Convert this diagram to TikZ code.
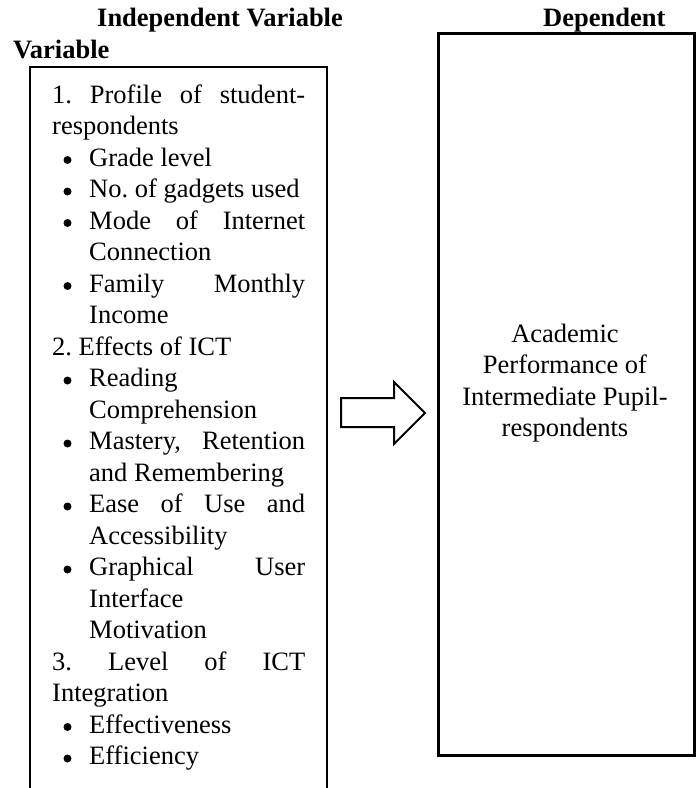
\documentclass[tikz,border=0pt]{standalone}
\usepackage{fontspec}
\setmainfont{Liberation Serif}
\frenchspacing
\begin{document}
\begin{tikzpicture}[x=1pt,y=-1pt,
  txt/.style={anchor=base west, inner sep=0pt, font=\fontsize{26.5}{31.5}\selectfont\frenchspacing},
  ctr/.style={anchor=base, inner sep=0pt, font=\fontsize{26.5}{31.5}\selectfont},
  hdr/.style={anchor=base west, inner sep=0pt, font=\fontsize{26.5}{31.5}\selectfont\bfseries},
  blt/.style={circle, fill, inner sep=0pt, minimum size=8pt},
  frame/.style={draw, line width=2pt},
  boxframe/.style={draw, line width=2.5pt, inner sep=0pt, anchor=north west, minimum width=256pt, minimum height=722pt},
  blockarrow/.style={draw, line width=2pt, line join=miter}]
\useasboundingbox (0,0) rectangle (696,788);

% headings
\node[hdr] (h1) at (97,26) {Independent Variable};
\node[hdr] (h2) at (13,58) {Variable};
\node[hdr] (h3) at (543,26) {Dependent};

% left frame (open at the bottom)
\draw[frame] (30,795) -- (30,67) -- (327,67) -- (327,795);

% left column text
\node[txt] (l0) at (52,103) {\makebox[253pt][s]{1. Profile of student-}};
\node[txt] (l1) at (52,134.5) {respondents};
\node[blt] (b2) at (67.5,160) {};
\node[txt] (l2) at (89,166) {Grade level};
\node[blt] (b3) at (67.5,191.5) {};
\node[txt] (l3) at (89,197.5) {No. of gadgets used};
\node[blt] (b4) at (67.5,223) {};
\node[txt] (l4) at (89,229) {\makebox[216pt][s]{Mode of Internet}};
\node[txt] (l5) at (89,260.5) {Connection};
\node[blt] (b6) at (67.5,286) {};
\node[txt] (l6) at (89,292) {\makebox[216pt][s]{Family Monthly}};
\node[txt] (l7) at (89,323.5) {Income};
\node[txt] (l8) at (52,355) {2. Effects of ICT};
\node[blt] (b9) at (67.5,380.5) {};
\node[txt] (l9) at (89,386.5) {Reading};
\node[txt] (l10) at (89,418) {Comprehension};
\node[blt] (b11) at (67.5,443.5) {};
\node[txt] (l11) at (89,449.5) {\makebox[216pt][s]{Mastery, Retention}};
\node[txt] (l12) at (89,481) {and Remembering};
\node[blt] (b13) at (67.5,506.5) {};
\node[txt] (l13) at (89,512.5) {\makebox[216pt][s]{Ease of Use and}};
\node[txt] (l14) at (89,544) {Accessibility};
\node[blt] (b15) at (67.5,569.5) {};
\node[txt] (l15) at (89,575.5) {\makebox[216pt][s]{Graphical User}};
\node[txt] (l16) at (89,607) {Interface};
\node[txt] (l17) at (89,638.5) {Motivation};
\node[txt] (l18) at (52,670) {\makebox[253pt][s]{3. Level of ICT}};
\node[txt] (l19) at (52,701.5) {Integration};
\node[blt] (b20) at (67.5,727) {};
\node[txt] (l20) at (89,733) {Effectiveness};
\node[blt] (b21) at (67.5,758.5) {};
\node[txt] (l21) at (89,764.5) {Efficiency};

% right box
\node[boxframe] (dep) at (437,32) {};
\node[ctr] (r1) at (565,342) {Academic};
\node[ctr] (r2) at (565,373.5) {Performance of};
\node[ctr] (r3) at (565,405) {Intermediate Pupil-};
\node[ctr] (r4) at (565,436.5) {respondents};

% block arrow
\coordinate (a1) at (341,398);
\coordinate (a2) at (394,398);
\coordinate (a3) at (394,382);
\coordinate (a4) at (425,413);
\coordinate (a5) at (394,444);
\coordinate (a6) at (394,427);
\coordinate (a7) at (341,427);
\draw[blockarrow] (a1) -- (a2) -- (a3) -- (a4) -- (a5) -- (a6) -- (a7) -- cycle;
\end{tikzpicture}
\end{document}
